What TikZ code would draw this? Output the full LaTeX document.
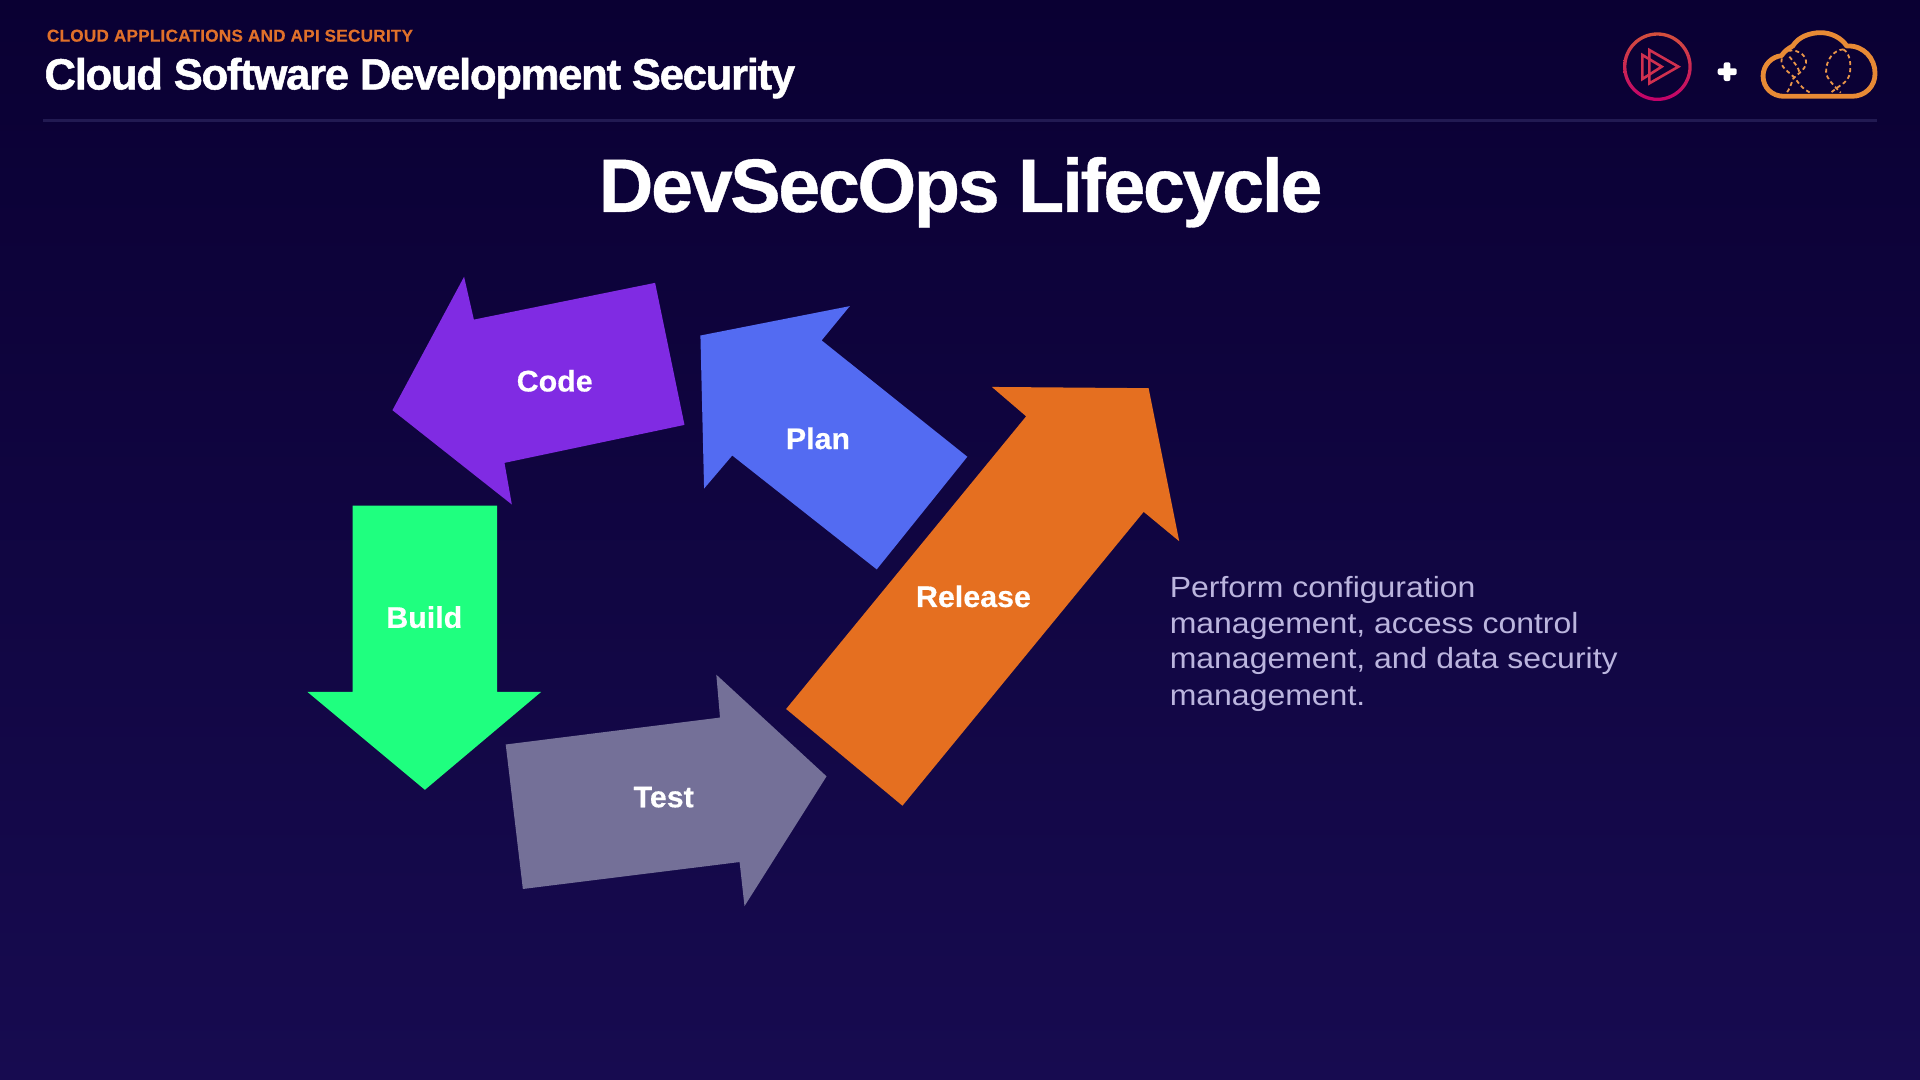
\documentclass[tikz,border=0pt]{standalone}
\usepackage{fontspec}
\setmainfont{Liberation Sans}
\newfontfamily\headfont[LetterSpace=-2.9,FakeBold=1.2]{Liberation Sans}
\newfontfamily\titlefont[LetterSpace=-3.2,FakeBold=0.5]{Liberation Sans}
\newfontfamily\eyefont[LetterSpace=1.2,FakeBold=0.3]{Liberation Sans}
\newfontfamily\lblfont[FakeStretch=1.02,FakeBold=0.4]{Liberation Sans}
\newfontfamily\descfont[FakeStretch=1.095]{Liberation Sans}
\definecolor{bgtop}{HTML}{0A0033}
\definecolor{bgbot}{HTML}{170B50}
\definecolor{codec}{HTML}{802BE3}
\definecolor{planc}{HTML}{536BF2}
\definecolor{relc}{HTML}{E56F20}
\definecolor{buildc}{HTML}{1FFF7F}
\definecolor{testc}{HTML}{747098}
\definecolor{orangehd}{HTML}{E0702A}
\definecolor{desc}{HTML}{BBB5DE}
\definecolor{rulec}{HTML}{221A52}
\definecolor{cloudc}{HTML}{E88A35}
\definecolor{ringtop}{HTML}{D4503C}
\definecolor{ringbot}{HTML}{C2006B}
\definecolor{playc}{HTML}{D0304F}
\tikzset{
  arrowshape/.style={fill=#1,draw=none},
  lbl/.style={font=\lblfont\fontsize{14.9}{16}\selectfont\bfseries,text=white,inner sep=0pt,anchor=center},
  desctext/.style={anchor=base west,inner sep=0pt,text=desc,font=\descfont\fontsize{14.6}{17.95}\selectfont},
  balloon/.style={draw=cloudc!90!white,line width=0.9pt,dash pattern=on 2pt off 1.5pt,fill=none},
  playline/.style={draw=playc,line width=1.3pt,line join=miter},
}
\begin{document}
\begin{tikzpicture}[x=0.61224pt,y=-0.61224pt]
\useasboundingbox (0,0) rectangle (1568,882);
\shade[top color=bgtop,bottom color=bgbot] (0,0) rectangle (1568,882);
% header
\node[anchor=base west,inner sep=0pt,text=orangehd,font=\eyefont\fontsize{8.6}{10}\selectfont\bfseries] (eyebrow) at (38,34) {CLOUD APPLICATIONS AND API SECURITY};
\node[anchor=base west,inner sep=0pt,text=white,font=\headfont\fontsize{21.8}{24}\selectfont\bfseries] (course) at (36,73) {Cloud Software Development Security};
\draw[rulec,line width=1.2pt] (35,98.5) -- (1533,98.5);
\node[anchor=base,inner sep=0pt,text=white,font=\titlefont\fontsize{37.8}{42}\selectfont\bfseries] (title) at (784.5,173) {DevSecOps Lifecycle};
% arrows
\fill[arrowshape=codec] (379,226)--(387,261)--(535,231)--(559,347)--(412,378)--(418,412)--(320.5,335)--cycle;
\fill[arrowshape=planc] (694,250)--(671,278)--(790,373)--(716,465)--(598,372)--(575,399)--(572,274)--cycle;
\fill[arrowshape=relc] (810,316)--(938,317)--(963,442)--(934,418)--(737,658)--(642,579)--(838,340)--cycle;
\fill[arrowshape=buildc] (288,413)--(406,413)--(406,565)--(442,565)--(347,645)--(251,565)--(288,565)--cycle;
\fill[arrowshape=testc] (413,608)--(588,586)--(585,551)--(675,634)--(608,740)--(604,704)--(427,726)--cycle;
\node[lbl] (code) at (453,311) {Code};
\node[lbl] (plan) at (668,358) {Plan};
\node[lbl] (release) at (795,487) {Release};
\node[lbl] (build) at (346.5,504) {Build};
\node[lbl] (test) at (542,651) {Test};
% description
\node[desctext] (desca) at (955,488) {Perform configuration};
\node[desctext] (descb) at (955,517) {management, access control};
\node[desctext] (descc) at (955,546) {management, and data security};
\node[desctext] (descd) at (955,576) {management.};
% icons, in coordinates of the 3x crop
\begin{scope}[x=0.16667pt,y=-0.16667pt,shift={(4740,30)}]
\shade[even odd rule,top color=ringtop,bottom color=ringbot] (232,170) circle (103) (232,170) circle (93);
\draw[playline] (208,120)--(295,170)--(208,220)--cycle;
\draw[playline] (187,135)--(245,170)--(187,207)--cycle;
\fill[white,rounded corners=1pt] (431,157)rectangle(451,213);
\fill[white,rounded corners=1pt] (413,175)rectangle(470,195);
\draw[cloudc,line width=2.4pt,line join=round]
 (612,259) .. controls (575,259) and (549,232) .. (549,198)
 .. controls (549,165) and (575,140) .. (604,137)
 .. controls (615,122) and (625,115) .. (638,108)
 .. controls (655,80) and (690,68) .. (722,68)
 .. controls (755,68) and (785,85) .. (800,108)
 .. controls (850,105) and (885,145) .. (885,190)
 .. controls (885,230) and (855,259) .. (815,259) -- cycle;
\draw[balloon] (625,122) .. controls (660,118) and (680,140) .. (678,160) .. controls (675,180) and (655,190) .. (640,205) .. controls (632,225) and (628,238) .. (620,248);
\draw[balloon] (605,145) .. controls (600,165) and (610,175) .. (632,192) .. controls (650,205) and (655,230) .. (690,248);
\draw[balloon] (628,140) .. controls (640,155) and (655,170) .. (660,192);
\draw[balloon] (790,118) .. controls (760,120) and (738,150) .. (738,185) .. controls (740,210) and (760,222) .. (770,236) -- (782,248);
\draw[balloon] (790,118) .. controls (810,130) and (815,165) .. (808,195) .. controls (800,220) and (775,228) .. (768,236) -- (752,248);
\end{scope}
\end{tikzpicture}
\end{document}
